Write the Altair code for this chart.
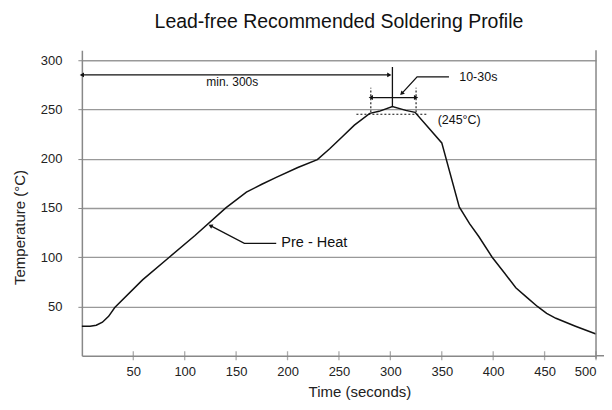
import altair as alt
import pandas as pd

# ---- data ----
time_s = [0, 8, 14, 20, 26, 32, 59, 85, 110, 140, 160, 175, 189, 210, 229, 241, 253, 265, 280,
          289, 302, 315, 324, 335, 350, 367, 377, 386, 399, 411, 422, 433, 443, 452, 461, 480, 500]
temp_c = [30, 30, 31, 34, 40, 49, 77, 100, 122, 150, 166, 174, 181, 191, 199, 210, 222, 234, 246,
          248, 253, 249, 247, 234, 216, 151, 134, 121, 100, 84, 69, 59, 50, 43, 38, 30, 22]

x_ticks = [50, 100, 150, 200, 250, 300, 350, 400, 450, 500]
y_ticks = [50, 100, 150, 200, 250, 300]

title_text = "Lead-free Recommended Soldering Profile"
x_title = "Time (seconds)"
y_title = "Temperature (°C)"

# annotation values (data units)
min_arrow_x = [0, 299]
min_arrow_y = 285
peak_line_x = 302
peak_line_y = [253, 293]
window_x = [281, 325]
window_arrow_y = 262
window_dash_y = [247, 272]
level_x = [267, 336]
level_y = 245

leader_id = ["w", "w", "w", "p", "p", "p"]
leader_ord = [0, 1, 2, 0, 1, 2]
leader_x = [311, 326, 357, 125, 158, 189]
leader_y = [266, 283, 283, 132, 114, 114]

labels = ["min. 300s", "10-30s", "(245°C)", "Pre - Heat"]
label_x = [121, 367, 346, 194]
label_y = [278, 283, 239, 114]
label_size = [12, 12.5, 12.5, 14.5]

FONT = "Liberation Sans Narrow, Liberation Sans, Arial, sans-serif"
X = alt.Scale(domain=[0, 500], nice=False, zero=False)
Y = alt.Scale(domain=[0, 310], nice=False, zero=False)

curve_df = pd.DataFrame({"t": time_s, "T": temp_c})

base = alt.Chart(curve_df)

curve = base.mark_line(color="#111", strokeWidth=1.5, clip=False).encode(
    x=alt.X("t:Q", scale=X, axis=alt.Axis(
        title=x_title, values=x_ticks, ticks=False, tickSize=0, labelPadding=10,
        grid=False, domainColor="#888", domainWidth=1.5,
        titleX=278, titleY=36, titleBaseline="middle", titleAnchor="start", titleAlign="center",
        labelFontSize=13, titleFontSize=15, labelFont=FONT, titleFont=FONT,
        titleFontWeight="normal", labelColor="#222", titleColor="#222")),
    y=alt.Y("T:Q", scale=Y, axis=alt.Axis(
        title=y_title, values=y_ticks, tickSize=4, tickColor="#888", labelPadding=16,
        grid=True, gridColor="#999", gridWidth=1.3, domainColor="#888", domainWidth=1.5,
        titleX=-62, titleY=177, titleBaseline="middle", titleAlign="center", titleAnchor="start",
        labelFontSize=13, titleFontSize=15, labelFont=FONT, titleFont=FONT,
        titleFontWeight="normal", labelColor="#222", titleColor="#222")),
)

xtick_df = pd.DataFrame({"t": x_ticks, "T": [0] * len(x_ticks)})
xticks = alt.Chart(xtick_df).mark_tick(color="#888", orient="vertical", size=9, thickness=1.3).encode(
    x=alt.X("t:Q", scale=X), y=alt.Y("T:Q", scale=Y))

border = alt.Chart(pd.DataFrame({"t": [500], "a": [-3], "b": [310]})).mark_rule(
    color="#888", strokeWidth=1.5).encode(
    x=alt.X("t:Q", scale=X), y=alt.Y("a:Q", scale=Y), y2="b:Q")

axis_ext = alt.Chart(pd.DataFrame({"a": [500], "b": [512], "T": [0]})).mark_rule(
    color="#888", strokeWidth=1.5, clip=False).encode(
    x=alt.X("a:Q", scale=X), x2="b:Q", y=alt.Y("T:Q", scale=Y))

hrules_df = pd.DataFrame({
    "a": [min_arrow_x[0], window_x[0]],
    "b": [min_arrow_x[1], window_x[1]],
    "y": [min_arrow_y, window_arrow_y],
})
hrules = alt.Chart(hrules_df).mark_rule(color="#111", strokeWidth=1.3).encode(
    x=alt.X("a:Q", scale=X), x2="b:Q", y=alt.Y("y:Q", scale=Y))

vline = alt.Chart(pd.DataFrame({"x": [peak_line_x], "a": [peak_line_y[0]], "b": [peak_line_y[1]]})).mark_rule(
    color="#111", strokeWidth=1.3).encode(
    x=alt.X("x:Q", scale=X), y=alt.Y("a:Q", scale=Y), y2="b:Q")

dash_v = alt.Chart(pd.DataFrame({"x": window_x, "a": [window_dash_y[0]] * 2, "b": [window_dash_y[1]] * 2})).mark_rule(
    color="#111", strokeWidth=1.1, strokeDash=[2, 2]).encode(
    x=alt.X("x:Q", scale=X), y=alt.Y("a:Q", scale=Y), y2="b:Q")

dash_h = alt.Chart(pd.DataFrame({"a": [level_x[0]], "b": [level_x[1]], "y": [level_y]})).mark_rule(
    color="#111", strokeWidth=1.1, strokeDash=[2, 2]).encode(
    x=alt.X("a:Q", scale=X), x2="b:Q", y=alt.Y("y:Q", scale=Y))

leaders = alt.Chart(pd.DataFrame({"id": leader_id, "o": leader_ord, "x": leader_x, "y": leader_y})).mark_line(
    color="#111", strokeWidth=1.3).encode(
    x=alt.X("x:Q", scale=X), y=alt.Y("y:Q", scale=Y), detail="id:N", order="o:Q")

heads_df = pd.DataFrame({
    "x": [min_arrow_x[0], min_arrow_x[1], window_x[0], window_x[1], leader_x[0], leader_x[3]],
    "y": [min_arrow_y, min_arrow_y, window_arrow_y, window_arrow_y, leader_y[0], leader_y[3]],
    "ang": [270, 90, 270, 90, 225, 297],
})
heads = alt.Chart(heads_df).mark_point(shape="triangle-up", filled=True, color="#111", size=24, opacity=1).encode(
    x=alt.X("x:Q", scale=X), y=alt.Y("y:Q", scale=Y), angle=alt.Angle("ang:Q", scale=None))

text_df = pd.DataFrame({"s": labels, "x": label_x, "y": label_y, "fs": label_size})
texts = alt.Chart(text_df).mark_text(font=FONT, color="#111", baseline="middle", align="left").encode(
    x=alt.X("x:Q", scale=X), y=alt.Y("y:Q", scale=Y), text="s:N",
    size=alt.Size("fs:Q", scale=None))

chart = alt.layer(
    curve, xticks, border, axis_ext, hrules, vline, dash_v, dash_h, leaders, heads, texts
).properties(
    width=515, height=306,
    title=alt.Title(title_text, font=FONT, fontSize=19.5, fontWeight="normal", color="#111",
                    frame="group", offset=17, anchor="middle"),
    autosize=alt.AutoSizeParams(type="none"),
    padding={"left": 74, "top": 42, "right": 8, "bottom": 46},
).configure_view(stroke=None)

chart.save("out.html", embed_options={"renderer": "svg", "actions": False})
